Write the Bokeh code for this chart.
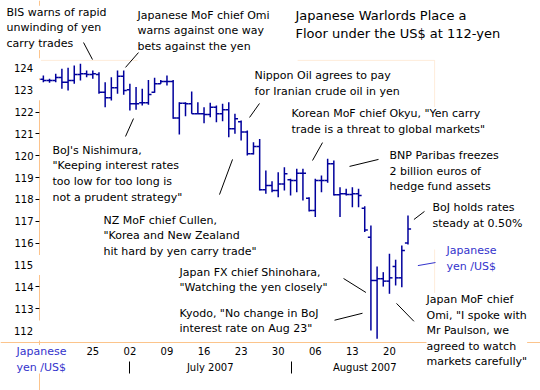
from bokeh.plotting import figure
from bokeh.models import Range1d, FixedTicker, LinearAxis, Label, Arrow, BoxAnnotation
from bokeh.embed import file_html
from bokeh.resources import INLINE

# ---- data: daily USD/JPY bars (index 1 = mid-June 2007, 6 sessions per week) ----
day = list(range(1, 61))
high = [123.67, 123.52, 123.75, 123.98, 124.02, 124.13, 124.21, 123.90, 123.90, 123.82,
        123.36, 123.59, 123.90, 123.90, 123.29, 123.14, 123.06, 123.47, 123.57, 123.47,
        123.67, 123.47, 122.45, 122.45, 122.94, 122.45, 122.22, 122.42, 122.30, 122.38,
        122.45, 121.92, 121.61, 121.15, 120.62, 120.77, 119.32, 118.83, 119.24, 119.47,
        118.94, 119.40, 119.40, 118.10, 118.94, 119.09, 119.86, 119.78, 118.56, 118.49,
        118.56, 118.49, 117.69, 116.81, 114.93, 114.67, 115.51, 115.24, 115.89, 117.26]
low = [123.36, 123.34, 123.36, 123.06, 122.98, 123.29, 123.44, 123.59, 123.52, 122.83,
       122.22, 122.53, 122.83, 122.79, 122.07, 122.10, 122.30, 122.33, 122.88, 123.29,
       123.21, 121.69, 120.97, 121.81, 121.92, 121.92, 121.49, 121.76, 121.53, 121.58,
       120.85, 121.00, 120.70, 120.01, 120.05, 118.41, 118.26, 118.33, 118.10, 118.41,
       118.18, 118.33, 117.95, 117.45, 117.19, 118.33, 118.76, 118.18, 117.19, 118.18,
       117.64, 117.64, 116.51, 112.00, 111.62, 114.01, 113.68, 114.06, 113.98, 115.94]
open_ = [123.50, 123.44, 123.44, 123.58, 123.36, 123.44, 123.72, 123.75, 123.72, 123.72,
         122.90, 122.65, 123.11, 123.64, 123.02, 122.38, 122.42, 122.42, 122.90, 123.29,
         123.40, 123.40, 121.72, 122.40, 122.38, 121.92, 121.92, 121.89, 122.22, 121.92,
         122.10, 121.23, 121.55, 121.08, 120.09, 120.42, 118.44, 118.64, 118.41, 118.71,
         118.90, 118.86, 119.20, 118.05, 117.49, 118.86, 118.86, 119.63, 118.21, 118.26,
         118.22, 118.26, 117.60, 116.27, 114.29, 114.37, 114.26, 114.93, 114.41, 116.00]
close = [123.44, 123.44, 123.58, 123.36, 123.44, 123.72, 123.75, 123.72, 123.75, 122.90,
         122.65, 123.11, 123.64, 122.98, 122.38, 122.38, 122.42, 122.80, 123.29, 123.40,
         123.40, 121.72, 122.40, 122.38, 121.92, 121.92, 121.89, 122.22, 121.92, 122.10,
         121.23, 121.69, 121.08, 120.09, 120.42, 118.44, 118.64, 118.41, 118.71, 119.17,
         118.86, 119.20, 119.20, 117.49, 118.86, 118.86, 119.63, 118.21, 118.26, 118.22,
         118.26, 118.18, 116.60, 114.29, 114.37, 114.26, 114.41, 114.41, 115.66, 116.65]

week_ticks = [9, 15, 21, 27, 33, 39, 45, 51, 57]
week_labels = ["25", "02", "09", "16", "23", "30", "06", "13", "20"]
month_ticks = [28, 53]
month_labels = ["July 2007", "August 2007"]
month_breaks = [14.94, 41.10]
y_marked = [113, 114, 116, 117, 118, 119, 120, 121, 122]   # labels with tick marks
y_plain = [124, 123, 115, 112]                               # labels drawn without ticks

# chart box (data units) inside the wider canvas
BOX_L, BOX_R, BOX_B, BOX_T = 0.375, 64.3, 111.45, 124.36

# annotations: (text, x, y, colour, size, padding right, padding bottom)
notes = [
    ("BIS warns of rapid\nunwinding of yen\ncarry trades", -4.96, 126.86, "black", "11px", 0, 0),
    ("Japanese MoF chief Omi\nwarns against one way\nbets against the yen", 16.23, 126.72, "black", "11px", 28, 15),
    ("Japanese Warlords Place a\nFloor under the US$ at 112-yen", 41.80, 126.77, "black", "13px", 0, 0),
    ("Nippon Oil agrees to pay\nfor Iranian crude oil in yen", 35.17, 123.97, "black", "11px", 0, 0),
    ("Korean MoF chief Okyu, \"Yen carry\ntrade is a threat to global markets\"", 41.15, 122.23, "black", "11px", 0, 15),
    ("BNP Paribas freezes\n2 billion euros of\nhedge fund assets", 57.01, 120.31, "black", "11px", 0, 7),
    ("BoJ holds rates\nsteady at 0.50%", 63.97, 117.93, "black", "11px", 0, 20),
    ("Japanese\nyen /US$", 66.23, 115.96, "#3333cc", "11px", 0, 0),
    ("BoJ's Nishimura,\n\"Keeping interest rates\ntoo low for too long is\nnot a prudent strategy\"", 2.48, 120.54, "black", "11px", 0, 0),
    ("NZ MoF chief Cullen,\n\"Korea and New Zealand\nhit hard by yen carry trade\"", 10.73, 117.34, "black", "11px", 0, 0),
    ("Japan FX chief Shinohara,\n\"Watching the yen closely\"", 23.03, 114.96, "black", "11px", 0, 0),
    ("Kyodo, \"No change in BoJ\ninterest rate on Aug 23\"", 23.03, 113.08, "black", "11px", 0, 0),
    ("Japan MoF chief\nOmi, \"I spoke with\nMr Paulson, we\nagreed to watch\nmarkets carefully\"", 62.99, 113.72, "black", "11px", 0, 0),
    ("Japanese\nyen /US$", -3.35, 111.34, "#3333cc", "11px", 0, 0),
]
# leader lines: (x0, y0, x1, y1, colour)
leaders = [
    (7.50, 125.18, 8.95, 124.40, "black"),
    (16.39, 124.72, 14.29, 124.04, "black"),
    (35.97, 122.39, 34.36, 121.75, "black"),
    (46.17, 120.60, 44.55, 119.78, "black"),
    (55.23, 119.83, 50.54, 119.51, "black"),
    (62.67, 117.45, 60.96, 117.08, "black"),
    (64.45, 115.11, 61.60, 114.97, "#3333cc"),
    (14.29, 120.88, 15.59, 121.70, "black"),
    (29.50, 118.22, 31.61, 119.83, "black"),
    (49.57, 114.38, 53.19, 113.74, "black"),
    (48.11, 112.47, 52.64, 112.79, "black"),
    (58.14, 113.24, 60.96, 112.42, "black"),
]

ORANGE = "#fcc48c"
BAR = "#00009c"
FONT = "DejaVu Sans"

p = figure(width=540, height=390, output_backend="svg", toolbar_location=None,
           x_range=Range1d(-5.935, 81.44), y_range=Range1d(109.254, 127.103),
           min_border=0, x_axis_type=None, y_axis_type=None)
p.grid.visible = False
p.outline_line_color = None
p.background_fill_color = "white"
p.border_fill_color = "white"

# chart box
p.add_layout(BoxAnnotation(left=BOX_L, right=BOX_R, bottom=BOX_B, top=BOX_T,
                           fill_alpha=0, line_color=ORANGE, line_width=1))

# OHLC bars
tick = 0.5
p.segment(x0=day, y0=low, x1=day, y1=high, line_color=BAR, line_width=1.5)
p.segment(x0=[d - tick for d in day], y0=open_, x1=day, y1=open_, line_color=BAR, line_width=1.5)
p.segment(x0=day, y0=close, x1=[d + tick for d in day], y1=close, line_color=BAR, line_width=1.5)

# y axis
yax = LinearAxis(ticker=FixedTicker(ticks=y_marked, minor_ticks=[]), fixed_location=BOX_L)
yax.axis_line_color = ORANGE
yax.major_tick_line_color = "black"
yax.major_tick_out = 4
yax.major_tick_in = 0
yax.minor_tick_line_color = None
yax.major_label_standoff = 2
yax.major_label_text_font = FONT
yax.major_label_text_font_size = "10px"
yax.major_label_text_color = "black"
p.add_layout(yax, "left")

# x axis (weeks)
xax = LinearAxis(ticker=FixedTicker(ticks=week_ticks, minor_ticks=[]),
                 major_label_overrides=dict(zip(week_ticks, week_labels)),
                 fixed_location=BOX_B)
xax.axis_line_color = ORANGE
xax.major_tick_line_color = None
xax.major_tick_out = 0
xax.major_tick_in = 0
xax.minor_tick_line_color = None
xax.major_label_standoff = 4
xax.major_label_text_font = FONT
xax.major_label_text_font_size = "10px"
xax.major_label_text_color = "black"
p.add_layout(xax, "below")

# month separators
sep = LinearAxis(ticker=FixedTicker(ticks=[], minor_ticks=month_breaks), fixed_location=110.58)
sep.axis_line_color = None
sep.major_tick_line_color = None
sep.minor_tick_line_color = "black"
sep.minor_tick_out = 12
sep.minor_tick_in = 0
sep.major_label_text_font_size = "0px"
p.add_layout(sep, "below")

# month names
mon = LinearAxis(ticker=FixedTicker(ticks=month_ticks, minor_ticks=[]),
                 major_label_overrides=dict(zip(month_ticks, month_labels)),
                 fixed_location=110.58)
mon.axis_line_color = None
mon.major_tick_line_color = None
mon.major_tick_out = 0
mon.major_tick_in = 0
mon.minor_tick_line_color = None
mon.major_label_standoff = 0
mon.major_label_text_font = FONT
mon.major_label_text_font_size = "10px"
mon.major_label_text_color = "black"
p.add_layout(mon, "below")

# y labels without tick marks (their boxes hide the axis line, as in the original)
for v in y_plain:
    p.add_layout(Label(x=BOX_L, x_offset=1.5, y=v, text=str(v), text_font=FONT,
                       text_font_size="10px", text_color="black",
                       text_align="right", text_baseline="middle",
                       background_fill_color="white",
                       padding=dict(left=0, right=8, top=6, bottom=6)))

for (txt, x, y, col, size, pr, pb) in notes:
    p.add_layout(Label(x=x, y=y, text=txt, text_font=FONT, text_font_size=size,
                       text_color=col, text_align="left", text_baseline="top",
                       text_line_height=1.2,
                       background_fill_color="white",
                       padding=dict(left=0, right=pr, top=0, bottom=pb)))

for (x0, y0, x1, y1, col) in leaders:
    p.add_layout(Arrow(end=None, x_start=x0, y_start=y0, x_end=x1, y_end=y1,
                       line_color=col, line_width=1))

open("out.html", "w").write(file_html(p, INLINE))
